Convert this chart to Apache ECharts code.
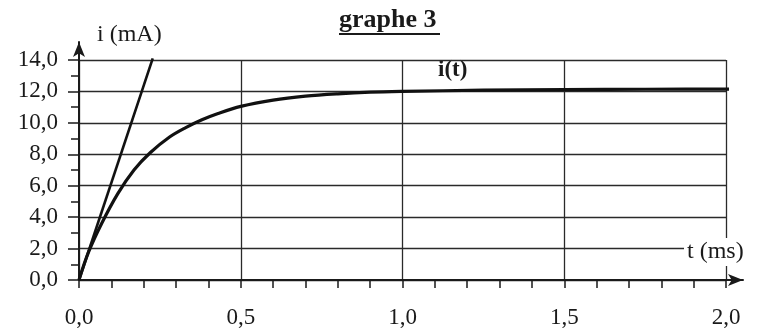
<!DOCTYPE html>
<html>
<head>
<meta charset="utf-8">
<script src="https://cdn.jsdelivr.net/npm/echarts@6/dist/echarts.min.js"></script>
<style>
  html, body { margin: 0; padding: 0; background: #fff; }
  #chart { width: 760px; height: 331px; }
</style>
</head>
<body>
<div id="chart"></div>
<script>
// 数据
var tData = [0, 0.03, 0.07, 0.12, 0.17, 0.22, 0.28, 0.33, 0.38, 0.43, 0.5, 0.6, 0.7, 0.8, 0.9, 1.0, 1.25, 1.5, 1.75, 2.0, 2.01];
var iData = [0, 1.8, 3.6, 5.5, 7.0, 8.1, 9.1, 9.7, 10.2, 10.6, 11.05, 11.45, 11.7, 11.85, 11.95, 12.0, 12.08, 12.12, 12.14, 12.15, 12.15];
// tangente à l'origine
var tangentT = [0, 0.228];
var tangentI = [0, 14.1];
// graduations
var xTicks = [0, 0.5, 1.0, 1.5, 2.0];
var yTicks = [0, 2, 4, 6, 8, 10, 12, 14];

var serif = "Liberation Serif";
var ink = "#1a1a1a";

function fmt(v) {
  return v.toFixed(1).replace(".", ",");
}

(function () {
  var myChart = echarts.init(document.getElementById("chart"));

  var curve = tData.map(function (t, k) { return [t, iData[k]]; });
  var tangent = tangentT.map(function (t, k) { return [t, tangentI[k]]; });

  var option = {
    backgroundColor: "#fff",
    animation: false,
    grid: [
      { left: 79, right: 34, top: 60, bottom: 51 },
      // seulement pour les flèches des axes
      { left: 79, right: 17, top: 42, bottom: 51 }
    ],
    xAxis: [
      {
        type: "value",
        gridIndex: 0,
        min: xTicks[0],
        max: xTicks[xTicks.length - 1],
        interval: 0.5,
        axisLine: { show: false },
        axisTick: { show: true, length: 8, lineStyle: { color: ink, width: 1.5 } },
        minorTick: { show: true, splitNumber: 5, length: 8, lineStyle: { color: ink, width: 1.5 } },
        axisLabel: {
          margin: 26,
          color: ink,
          fontFamily: serif,
          fontSize: 23,
          formatter: fmt
        },
        splitLine: { show: true, lineStyle: { color: "#2a2a2a", width: 1.3 } }
      },
      {
        type: "value",
        gridIndex: 1,
        min: 0,
        max: 1,
        axisLine: {
          show: true,
          symbol: ["none", "arrow"],
          symbolSize: [9, 15],
          lineStyle: { color: ink, width: 2 }
        },
        axisTick: { show: false },
        axisLabel: { show: false },
        splitLine: { show: false }
      }
    ],
    yAxis: [
      {
        type: "value",
        gridIndex: 0,
        min: yTicks[0],
        max: yTicks[yTicks.length - 1],
        interval: 2,
        axisLine: { show: false },
        axisTick: { show: true, length: 11, lineStyle: { color: ink, width: 1.5 } },
        minorTick: { show: true, splitNumber: 2, length: 8, lineStyle: { color: ink, width: 1.5 } },
        axisLabel: {
          margin: 21,
          color: ink,
          fontFamily: serif,
          fontSize: 23,
          formatter: fmt
        },
        splitLine: { show: true, lineStyle: { color: "#2a2a2a", width: 1.3 } }
      },
      {
        type: "value",
        gridIndex: 1,
        min: 0,
        max: 1,
        axisLine: {
          show: true,
          symbol: ["none", "arrow"],
          symbolSize: [9, 15],
          lineStyle: { color: ink, width: 2 }
        },
        axisTick: { show: false },
        axisLabel: { show: false },
        splitLine: { show: false }
      }
    ],
    series: [
      {
        name: "i(t)",
        type: "line",
        xAxisIndex: 0,
        yAxisIndex: 0,
        data: curve,
        smooth: 0.35,
        showSymbol: false,
        clip: false,
        lineStyle: { color: "#111", width: 3.2 }
      },
      {
        name: "tangente",
        type: "line",
        xAxisIndex: 0,
        yAxisIndex: 0,
        data: tangent,
        showSymbol: false,
        clip: false,
        lineStyle: { color: "#111", width: 2.6 }
      }
    ],
    graphic: [
      {
        type: "text",
        left: 339,
        top: 7,
        style: {
          text: "graphe 3",
          fill: ink,
          font: "bold 26px '" + serif + "'"
        }
      },
      {
        type: "line",
        shape: { x1: 339, y1: 34, x2: 440, y2: 34 },
        style: { stroke: ink, lineWidth: 2 }
      },
      {
        type: "text",
        left: 97,
        top: 23,
        style: {
          text: "i (mA)",
          fill: ink,
          font: "24px '" + serif + "'"
        }
      },
      {
        type: "text",
        left: 436,
        top: 59,
        style: {
          text: "i(t)",
          fill: ink,
          font: "bold 23px '" + serif + "'",
          backgroundColor: "#fff",
          padding: [0, 2, 0, 2]
        }
      },
      {
        type: "text",
        left: 684,
        top: 238,
        z: 100,
        style: {
          text: "t (ms)",
          fill: ink,
          font: "24px '" + serif + "'",
          backgroundColor: "#fff",
          padding: [2, 3, 2, 3]
        }
      }
    ]
  };

  myChart.setOption(option);
  window.addEventListener("resize", function () {
    myChart.resize();
  });
})();
</script>
</body>
</html>
